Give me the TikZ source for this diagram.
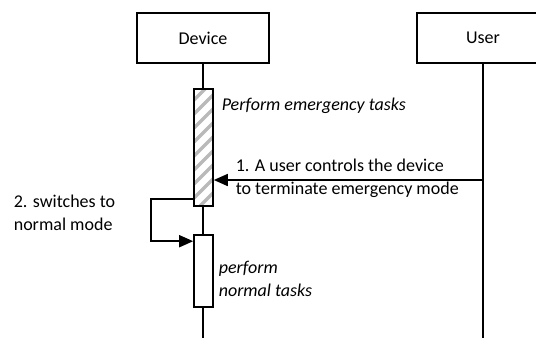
\documentclass[tikz,border=0pt]{standalone}
\usepackage{fontspec}
\setmainfont{Carlito}
\usetikzlibrary{arrows.meta}

\begin{document}
\begin{tikzpicture}[x=1pt,y=-1pt,line width=1.6pt,
    lifebox/.style={draw,line width=2.4pt,minimum width=132pt,minimum height=50pt},
    actbox/.style={draw,fill=white,line width=1.6pt,minimum width=19pt,inner sep=0pt},
    msg/.style={-{Triangle[length=14pt,width=12pt]}},
    lbl/.style={align=left,anchor=west,inner sep=0pt,font=\fontsize{18}{23}\selectfont}]
  \useasboundingbox (0,0) rectangle (536,338);
  \clip (0,0) rectangle (536,338);

  \node[lifebox,font=\fontsize{18}{20}\selectfont] (dev) at (203,38) {Device};
  \node[lifebox,font=\fontsize{18}{20}\selectfont] (usr) at (483,38) {User};
  \coordinate (devend) at (204,338);
  \coordinate (usrend) at (483,338);

  % lifelines
  \draw (dev.south) -- (dev.south |- devend);
  \draw (usr.south) -- (usr.south |- usrend);

  % activations
  \node[actbox,minimum height=117pt,
    path picture={\foreach \k in {0,...,9}
      \draw[line width=3.2pt,gray!55]
        ([yshift=\k*14pt-6pt]path picture bounding box.south west) -- ++(20,-20);}]
    (act1) at (203.5,147.5) {};
  \node[actbox,minimum height=72pt] (act2) at (203.5,271) {};

  % messages
  \draw[msg] (usr.south |- 0,180) -- (act1.east |- 0,180);
  \draw[msg] ([yshift=8pt]act1.south west) -- ++(-42,0) |- ([yshift=-7pt]act2.north west);

  \node[lbl,font=\fontsize{18}{23}\itshape] (emg) at (221,106) {Perform emergency tasks};
  \node[lbl] (ctl) at (235,178) {1. A user controls the device\\to terminate emergency mode};
  \node[lbl] (swt) at (13,213) {2. switches to\\normal mode};
  \node[lbl,font=\fontsize{18}{23}\itshape] (nrm) at (218,279) {perform\\normal tasks};
\end{tikzpicture}
\end{document}
